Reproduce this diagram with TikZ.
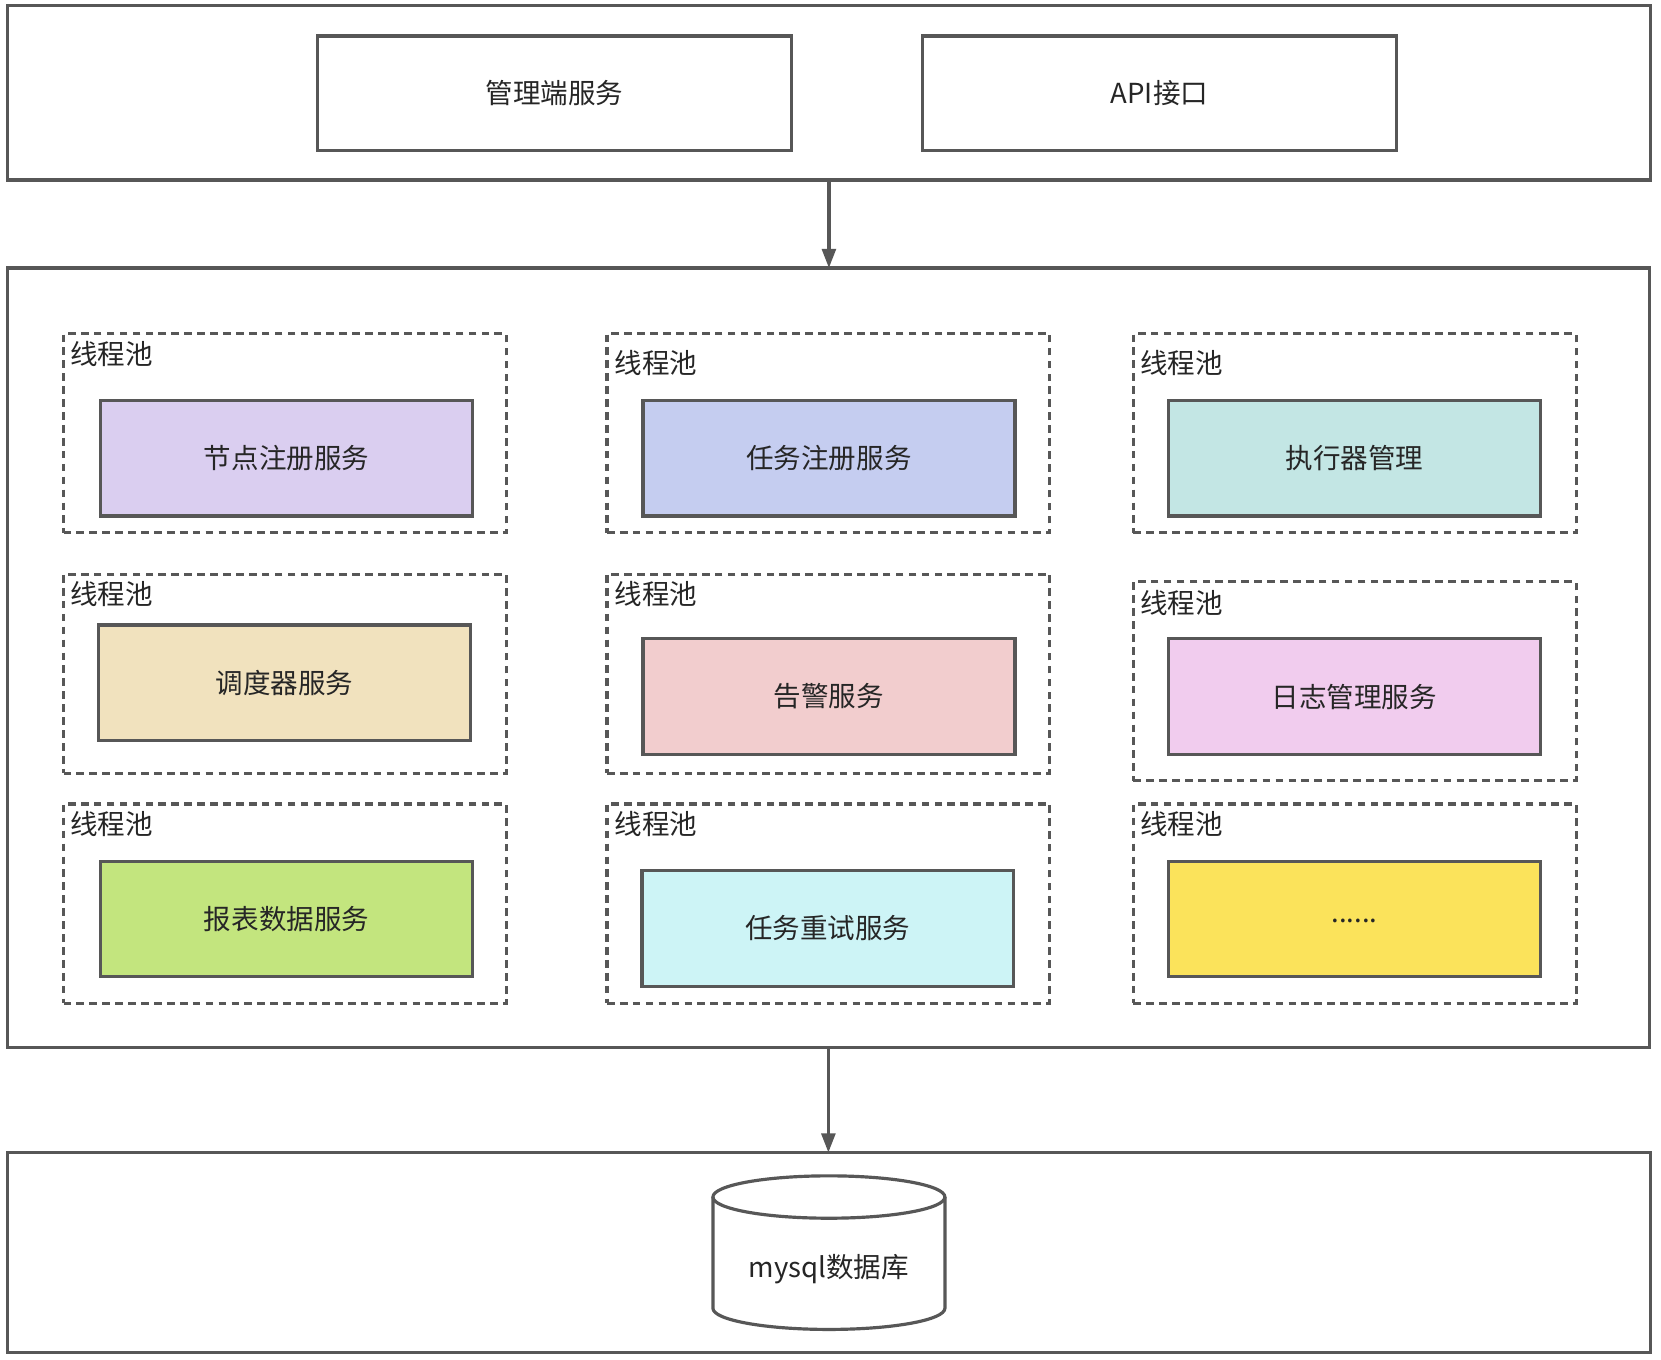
\documentclass[tikz,border=0pt]{standalone}
\usepackage{fontspec}
\setmainfont{Noto Sans CJK SC}
\usetikzlibrary{arrows.meta}
\definecolor{ln}{HTML}{575757}
\definecolor{tx}{HTML}{262626}
\definecolor{cA}{HTML}{DACEF0}
\definecolor{cB}{HTML}{C5CDF0}
\definecolor{cC}{HTML}{C3E6E4}
\definecolor{cD}{HTML}{F1E2BE}
\definecolor{cE}{HTML}{F2CDCE}
\definecolor{cF}{HTML}{F1CCEE}
\definecolor{cG}{HTML}{C3E57E}
\definecolor{cH}{HTML}{CDF4F6}
\definecolor{cI}{HTML}{FBE35B}
\tikzset{
  base/.style={anchor=north west, inner sep=0pt, outer sep=0pt, text=tx,
    font=\fontsize{13pt}{15pt}\selectfont},
  outerbox/.style={base, draw=ln, line width=1.6pt, minimum width=775.5pt},
  whitebox/.style={base, draw=ln, line width=1.5pt, minimum width=223.5pt, minimum height=54pt},
  poolbox/.style={base, draw=ln, line width=1.5pt, dash pattern=on 3.6pt off 2.5pt,
    minimum width=209pt, minimum height=94pt},
  svcbox/.style={base, draw=ln, line width=1.6pt, minimum width=175.5pt, minimum height=54.5pt},
  poollabel/.style={anchor=west, inner sep=0pt, text=tx, font=\fontsize{13pt}{15pt}\selectfont},
  arr/.style={draw=ln, line width=1.5pt, -{Triangle[length=9pt, width=6.5pt]}},
}
\begin{document}
\begin{tikzpicture}[x=0.5pt, y=-0.5pt]
\useasboundingbox[fill=white] (0,0) rectangle (1568,1283);

% top layer
\node[outerbox, minimum height=82.5pt] (top) at (7,5) {};
\node[whitebox] (admin) at (300,34) {管理端服务};
\node[whitebox] (api) at (871,34) {API接口};

% middle layer
\node[outerbox, minimum width=775pt, minimum height=368pt] (mid) at (7,253) {};

\node[poolbox] (p11) at (60,315) {};
\node[poolbox] (p12) at (573,315) {};
\node[poolbox] (p13) at (1070,315) {};
\node[poolbox] (p21) at (60,542) {};
\node[poolbox] (p22) at (573,542) {};
\node[poolbox] (p23) at (1070,549) {};
\node[poolbox] (p31) at (60,759) {};
\node[poolbox] (p32) at (573,759) {};
\node[poolbox] (p33) at (1070,759) {};

\node[poollabel] (l11) at (66,334) {线程池};
\node[poollabel] (l12) at (580,343) {线程池};
\node[poollabel] (l13) at (1076,343) {线程池};
\node[poollabel] (l21) at (66,561) {线程池};
\node[poollabel] (l22) at (580,561) {线程池};
\node[poollabel] (l23) at (1076,569) {线程池};
\node[poollabel] (l31) at (66,778) {线程池};
\node[poollabel] (l32) at (580,778) {线程池};
\node[poollabel] (l33) at (1076,778) {线程池};

\node[svcbox, fill=cA] (s11) at (95,378) {节点注册服务};
\node[svcbox, fill=cB] (s12) at (607,378) {任务注册服务};
\node[svcbox, fill=cC] (s13) at (1103,378) {执行器管理};
\node[svcbox, fill=cD] (s21) at (93,590) {调度器服务};
\node[svcbox, fill=cE] (s22) at (607,603) {告警服务};
\node[svcbox, fill=cF] (s23) at (1103,603) {日志管理服务};
\node[svcbox, fill=cG] (s31) at (95,813) {报表数据服务};
\node[svcbox, fill=cH] (s32) at (606,822) {任务重试服务};
\node[svcbox, fill=cI] (s33) at (1103,813) {\raisebox{-3.5pt}{......}};

% bottom layer
\node[outerbox, minimum height=94.5pt] (bot) at (7,1088) {};

% cylinder
\filldraw[fill=white, draw=ln, line width=1.5pt]
  (673,1130) -- (673,1235) arc[start angle=180, end angle=360, x radius=54.75pt, y radius=10pt]
  -- (892,1130);
\draw[draw=ln, line width=1.5pt] (782.5,1130) ellipse[x radius=54.75pt, y radius=10pt];
\node[text=tx, font=\fontsize{13pt}{15pt}\selectfont, inner sep=0pt] (db) at (782.5,1198) {mysql数据库};

% connectors
\draw[arr] (top.south) -- (top.south |- mid.north);
\draw[arr] (mid.south) -- (mid.south |- bot.north);
\end{tikzpicture}
\end{document}
